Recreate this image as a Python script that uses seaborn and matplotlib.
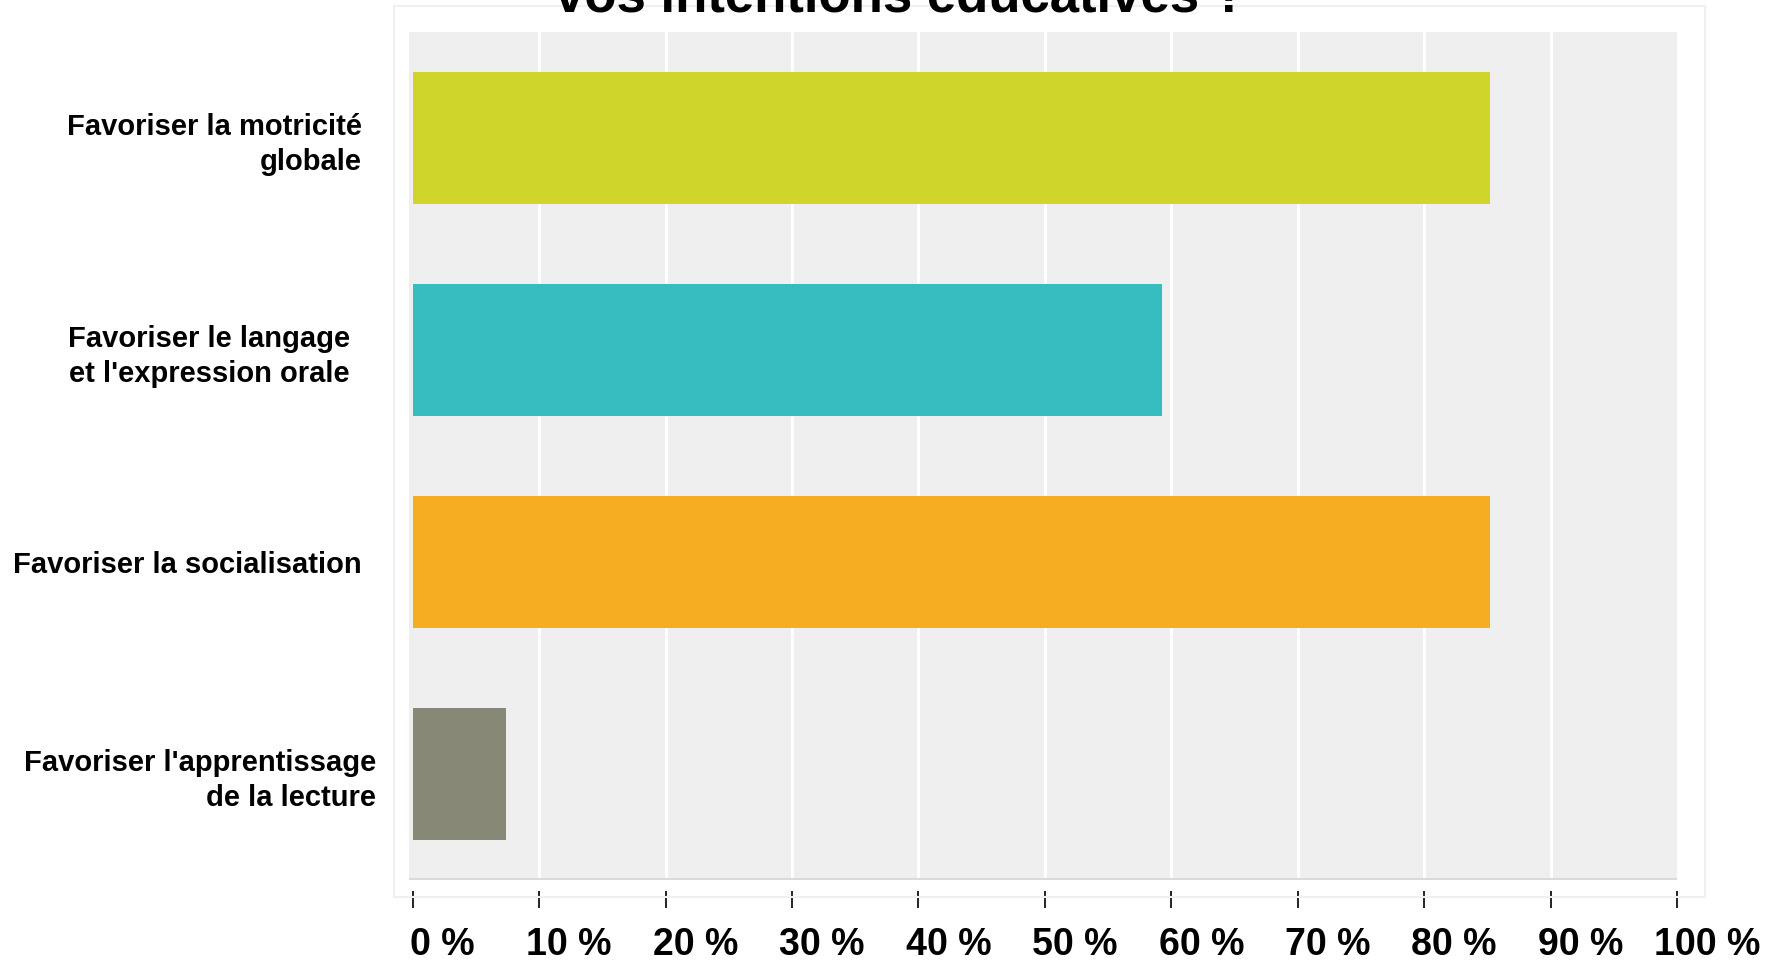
import matplotlib
matplotlib.use("Agg")
import matplotlib.pyplot as plt
import matplotlib.transforms as mtransforms
from matplotlib.patches import Rectangle
import seaborn as sns
import pandas as pd

# survey answers (share of respondents, %)
categories = [
    "Favoriser la motricité\nglobale",
    "Favoriser le langage\net l'expression orale",
    "Favoriser la socialisation",
    "Favoriser l'apprentissage\nde la lecture",
]
values = [85.19, 59.26, 85.19, 7.41]
colors = ["#cfd52a", "#35bdbf", "#f5ae20", "#888877"]
x_ticks = [0, 10, 20, 30, 40, 50, 60, 70, 80, 90, 100]
x_tick_labels = [f"{t} %" for t in x_ticks]
title = "Quelles sont\nvos intentions éducatives ?"

sns.set_theme(style="white")
plt.rcParams["font.family"] = ["Liberation Sans", "DejaVu Sans"]

df = pd.DataFrame({"categorie": categories, "pourcentage": values})

fig = plt.figure(figsize=(17.9, 9.65), dpi=100)
fig.patch.set_facecolor("white")

# faint frame around the survey widget
fig.patches.append(Rectangle((394 / 1790, 1 - 897 / 965), (1705 - 394) / 1790, (897 - 6) / 965,
                             transform=fig.transFigure, fill=False,
                             edgecolor="#f0f0f0", linewidth=1.5, zorder=0))

ax = fig.add_axes([409 / 1790, 1 - 880 / 965, (1677 - 409) / 1790, (880 - 32) / 965])
ax.set_facecolor("#efefef")

sns.barplot(data=df, x="pourcentage", y="categorie", hue="categorie",
            palette=colors, orient="h", width=0.62, legend=False,
            saturation=1, linewidth=0, ax=ax, zorder=3)

ax.set_xlim(-0.3, 100)
ax.set_ylim(3.5, -0.5)
for t in x_ticks[1:-1]:
    ax.axvline(t, color="white", linewidth=2.2, zorder=1)
ax.axhline(3.5, color="#dadada", linewidth=3, zorder=2)

ax.set_xlabel("")
ax.set_ylabel("")
for side in ["top", "right", "left"]:
    ax.spines[side].set_visible(False)
ax.spines["bottom"].set_position(("outward", 8))
ax.spines["bottom"].set_visible(False)

ax.set_xticks(x_ticks)
ax.set_xticklabels(x_tick_labels, fontsize=27, fontweight="bold", color="black")
ax.tick_params(axis="x", direction="out", length=12, width=1.4, color="#222222",
               pad=14, bottom=True)
ax.tick_params(axis="y", length=0, pad=34)

# the percentage labels sit a little to the right of their ticks
for lab in ax.get_xticklabels():
    lab.set_transform(lab.get_transform() + mtransforms.ScaledTranslation(30 / 100, 0, fig.dpi_scale_trans))

for lab in ax.get_yticklabels():
    lab.set_fontsize(21)
    lab.set_fontweight("bold")
    lab.set_color("black")
    lab.set_multialignment("right")
    lab.set_linespacing(1.3)

# small horizontal shifts of the category labels, as in the original layout
shifts = [0, -12, 0, 14]
for lab, dx in zip(ax.get_yticklabels(), shifts):
    lab.set_transform(lab.get_transform() + mtransforms.ScaledTranslation(dx / 100, 0, fig.dpi_scale_trans))

fig.text(900 / 1790, 1 - 12 / 965, title, ha="center", va="baseline",
         fontsize=38, fontweight="bold", color="black", multialignment="center")

fig.savefig("out.png", dpi=100)
